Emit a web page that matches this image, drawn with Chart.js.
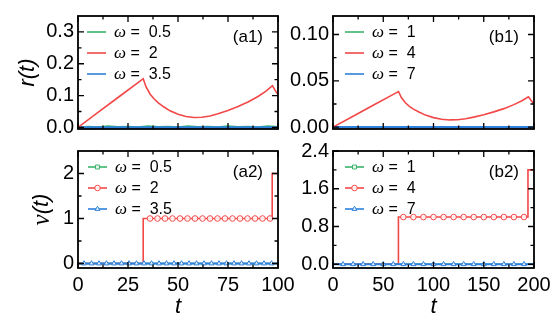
<!DOCTYPE html>
<html><head><meta charset="utf-8">
<script src="https://cdn.jsdelivr.net/npm/chart.js@4.4.0/dist/chart.umd.min.js"></script>
<style>
html,body{margin:0;padding:0;background:#fff;}
#wrap{position:relative;width:556px;height:327px;overflow:hidden;background:#fff;}
#wrap canvas{position:absolute;left:0;top:0;}
</style></head><body>
<div id="wrap">
<canvas id="a1" width="556" height="327"></canvas>
<canvas id="b1" width="556" height="327"></canvas>
<canvas id="a2" width="556" height="327"></canvas>
<canvas id="b2" width="556" height="327"></canvas>
</div>
<script>
// ---------- data ----------
const omegaA = ['0.5', '2', '3.5'];
const omegaB = ['1', '4', '7'];

const xTicksA = [0, 25, 50, 75, 100];
const xTicksB = [0, 50, 100, 150, 200];
const yTicksA1 = [0, 0.1, 0.2, 0.3];
const yTicksB1 = [0, 0.05, 0.10];
const yTicksA2 = [0, 1, 2];
const yTicksB2 = [0, 0.8, 1.6, 2.4];

// (a1) r(t)
const tA1Green = [0,5,10,15,20,25,30,35,40,45,50,55,60,65,70,75,80,85,90,95,100];
const rA1Green = [0,0.003,0.001,0.004,0.002,0.003,0.001,0.004,0.002,0.003,0.001,0.004,0.002,0.003,0.001,0.004,0.002,0.003,0.001,0.004,0.002];
const tA1Red = [0,10,20,30,32.6,34,36,38,40,43,46,50,54,58,62,66,70,75,80,85,90,94,97.2,98.5,100];
const rA1Red = [0,0.047,0.094,0.141,0.153,0.128,0.105,0.090,0.078,0.064,0.052,0.041,0.034,0.031,0.032,0.036,0.043,0.053,0.066,0.080,0.097,0.114,0.131,0.117,0.103];
const tA1Blue = [0, 100];
const rA1Blue = [0, 0];

// (b1) r(t)
const tB1Green = [0, 200];
const rB1Green = [0, 0];
const tB1Red = [0,20,40,60,65.2,68,72,76,80,86,92,100,108,116,124,132,140,150,160,170,180,188,194.4,197,200];
const rB1Red = [0,0.0118,0.0236,0.0354,0.0385,0.032,0.0263,0.0225,0.0195,0.016,0.013,0.0103,0.0085,0.0078,0.008,0.009,0.0108,0.0133,0.0165,0.020,0.0243,0.0285,0.0328,0.029,0.025];
const tB1Blue = [0, 200];
const rB1Blue = [0, 0];

// (a2) nu(t)
const tA2Line = [0, 100];
const vA2Zero = [0, 0];
const tA2RedLine = [0, 32.6, 32.6, 97.1, 97.1, 100];
const vA2RedLine = [0, 0, 1, 1, 2, 2];
const tA2BlueMarks = [3.0,6.75,10.5,14.25,18.0,21.75,25.5,29.25,33.0,36.75,40.5,44.25,48.0,51.75,55.5,59.25,63.0,66.75,70.5,74.25,78.0,81.75,85.5,89.25,93.0,96.75];
const vA2BlueMarks = [0,0,0,0,0,0,0,0,0,0,0,0,0,0,0,0,0,0,0,0,0,0,0,0,0,0];
const tA2RedMarks = [36.0,39.75,43.5,47.25,51.0,54.75,58.5,62.25,66.0,69.75,73.5,77.25,81.0,84.75,88.5,92.25,96.0];
const vA2RedMarks = [1,1,1,1,1,1,1,1,1,1,1,1,1,1,1,1,1];

// (b2) nu(t)
const tB2Line = [0, 200];
const vB2Zero = [0, 0];
const tB2RedLine = [0, 65.1, 65.1, 194, 194, 200];
const vB2RedLine = [0, 0, 1, 1, 2, 2];
const tB2BlueMarks = [10,20,30,40,50,60,70,80,90,100,110,120,130,140,150,160,170,180,190];
const vB2BlueMarks = [0,0,0,0,0,0,0,0,0,0,0,0,0,0,0,0,0,0,0];
const tB2RedMarks = [70,80,90,100,110,120,130,140,150,160,170,180,190];
const vB2RedMarks = [1,1,1,1,1,1,1,1,1,1,1,1,1];

// ---------- style ----------
const GREEN = '#3bb36b', RED = '#f24848', BLUE = '#2d80dc';
const FONT = '"Liberation Sans", Arial, sans-serif';
const MARK_R = 2.8;
const MARK_FILL = 'rgba(255,255,255,0.85)';
Chart.defaults.font.family = FONT;
Chart.defaults.color = '#000';
Chart.defaults.animation = false;

const pts = (xs, ys) => xs.map((x, i) => ({x: x, y: ys[i]}));

function lineDs(label, xs, ys, color, width) {
  return {label: label, data: pts(xs, ys), borderColor: color, borderWidth: width, pointRadius: 0,
          fill: false, tension: 0, showLine: true};
}
function markDs(label, xs, ys, color, style) {
  return {label: label, data: pts(xs, ys), borderColor: color, backgroundColor: MARK_FILL,
          showLine: false, pointStyle: style, pointRadius: MARK_R, pointBorderWidth: 1};
}

function minors(major) {
  const m = [];
  for (let i = 0; i < major.length - 1; i++) m.push((major[i] + major[i + 1]) / 2);
  return m;
}

const panelPlugin = {
  id: 'panel',
  afterDatasetsDraw(chart, args, o) {
    const {ctx, chartArea: a} = chart;
    const x = chart.scales.x, y = chart.scales.y;
    ctx.save();
    ctx.strokeStyle = '#000';
    ctx.lineWidth = 1.3;
    const xt = (vals, len) => vals.forEach(v => {
      const p = x.getPixelForValue(v);
      ctx.beginPath(); ctx.moveTo(p, a.bottom); ctx.lineTo(p, a.bottom - len);
      ctx.moveTo(p, a.top); ctx.lineTo(p, a.top + len); ctx.stroke();
    });
    const yt = (vals, len) => vals.forEach(v => {
      const p = y.getPixelForValue(v);
      ctx.beginPath(); ctx.moveTo(a.left, p); ctx.lineTo(a.left + len, p);
      ctx.moveTo(a.right, p); ctx.lineTo(a.right - len, p); ctx.stroke();
    });
    xt(o.xMajor, 6); xt(minors(o.xMajor), 3.5);
    yt(o.yMajor, 6); yt(minors(o.yMajor), 3.5);
    ctx.lineWidth = 1.8;
    ctx.strokeRect(a.left, a.top, a.right - a.left, a.bottom - a.top);

    // legend
    const lx = a.left + o.legX;
    o.legend.forEach((e, i) => {
      const yy = a.top + 16 + i * 21;
      ctx.strokeStyle = e.color; ctx.lineWidth = 1.6;
      ctx.beginPath(); ctx.moveTo(lx, yy); ctx.lineTo(lx + 19, yy); ctx.stroke();
      if (e.style) {
        ctx.fillStyle = MARK_FILL;
        ctx.lineWidth = 1;
        Chart.helpers.drawPoint(ctx, {pointStyle: e.style, radius: MARK_R, rotation: 0, borderWidth: 1}, lx + 9.5, yy);
      }
      ctx.fillStyle = '#000';
      ctx.textBaseline = 'middle';
      ctx.textAlign = 'left';
      ctx.font = 'italic 17px "Liberation Serif", serif';
      const tx = lx + 27;
      ctx.fillText('\u03C9', tx, yy + 1);
      const w = ctx.measureText('\u03C9').width;
      ctx.font = '16px ' + FONT;
      ctx.fillText(' =  ' + e.label, tx + w, yy + 1);
    });
    // panel label
    ctx.fillStyle = '#000';
    ctx.font = '17px ' + FONT;
    ctx.textAlign = 'right';
    ctx.textBaseline = 'middle';
    ctx.fillText(o.label, a.right - 15, a.top + 21);

    // y-axis title (mixed fonts)
    if (o.yTitle) {
      ctx.save();
      ctx.translate(o.yTitleX, (a.top + a.bottom) / 2);
      ctx.rotate(-Math.PI / 2);
      ctx.textBaseline = 'middle';
      ctx.textAlign = 'left';
      let total = 0;
      o.yTitle.forEach(part => { ctx.font = part.font; total += ctx.measureText(part.text).width; });
      let cx = -total / 2;
      o.yTitle.forEach(part => { ctx.font = part.font; ctx.fillText(part.text, cx, 0); cx += ctx.measureText(part.text).width; });
      ctx.restore();
    }
    ctx.restore();
  }
};

function makePanel(id, p) {
  const padding = {left: p.area.l - p.wy, top: p.area.t, right: 556 - p.area.r, bottom: 327 - p.area.b - p.hx};
  return new Chart(document.getElementById(id), {
    type: 'line',
    data: {datasets: p.datasets},
    plugins: [panelPlugin],
    options: {
      responsive: false, animation: false,
      layout: {padding: padding},
      plugins: {legend: {display: false}, tooltip: {enabled: false},
        panel: {xMajor: p.xTicks, yMajor: p.yTicks, legend: p.legend, legX: p.legX, label: p.label,
                yTitle: p.yTitle, yTitleX: p.yTitleX}},
      scales: {
        x: {type: 'linear', min: p.xMin, max: p.xMax,
          afterBuildTicks: s => { s.ticks = p.xTicks.map(v => ({value: v})); },
          afterFit: s => { s.height = p.hx; },
          grid: {display: false, drawTicks: false}, border: {display: false},
          ticks: {display: p.showX, autoSkip: false, maxRotation: 0, padding: 5, font: {size: 20}, color: '#000'},
          title: {display: p.showX, text: 't', font: {size: 22, style: 'italic'}, color: '#000', padding: {top: 0, bottom: 7}}
        },
        y: {type: 'linear', min: p.yMin, max: p.yMax,
          afterBuildTicks: s => { s.ticks = p.yTicks.map(v => ({value: v})); },
          afterFit: s => { s.width = p.wy; },
          grid: {display: false, drawTicks: false}, border: {display: false},
          ticks: {autoSkip: false, padding: 4, font: {size: 20}, color: '#000', callback: v => Number(v).toFixed(p.dec)},
          title: {display: false}
        }
      }
    }
  });
}

const SANS_IT = 'italic 22px ' + FONT;
const SERIF_IT = 'italic 25px "Liberation Serif", serif';

makePanel('a1', {
  area: {l: 78, r: 278, t: 12, b: 129}, wy: 78, hx: 0, showX: false,
  xMin: 0, xMax: 100, yMin: -0.005, yMax: 0.35, xTicks: xTicksA, yTicks: yTicksA1, dec: 1,
  yTitle: [{text: 'r(t)', font: SANS_IT}], yTitleX: 28, legX: 9, label: '(a1)',
  legend: [{color: GREEN, label: omegaA[0]}, {color: RED, label: omegaA[1]}, {color: BLUE, label: omegaA[2]}],
  datasets: [
    lineDs(omegaA[1], tA1Red, rA1Red, RED, 1.6),
    lineDs(omegaA[2], tA1Blue, rA1Blue, BLUE, 2.5),
    lineDs(omegaA[0], tA1Green, rA1Green, GREEN, 1.6)
  ]
});

makePanel('b1', {
  area: {l: 333, r: 534, t: 12, b: 129}, wy: 55, hx: 0, showX: false,
  xMin: 0, xMax: 200, yMin: -0.002, yMax: 0.12, xTicks: xTicksB, yTicks: yTicksB1, dec: 2,
  legX: 12, label: '(b1)',
  legend: [{color: GREEN, label: omegaB[0]}, {color: RED, label: omegaB[1]}, {color: BLUE, label: omegaB[2]}],
  datasets: [
    lineDs(omegaB[1], tB1Red, rB1Red, RED, 1.6),
    lineDs(omegaB[2], tB1Blue, rB1Blue, BLUE, 2.5),
    lineDs(omegaB[0], tB1Green, rB1Green, GREEN, 1.6)
  ]
});

makePanel('a2', {
  area: {l: 78, r: 278, t: 151, b: 268}, wy: 78, hx: 59, showX: true,
  xMin: 0, xMax: 100, yMin: -0.1, yMax: 2.5, xTicks: xTicksA, yTicks: yTicksA2, dec: 0,
  yTitle: [{text: '\u03BD', font: SERIF_IT}, {text: '(t)', font: SANS_IT}], yTitleX: 42, legX: 10, label: '(a2)',
  legend: [{color: GREEN, label: omegaA[0], style: 'rect'}, {color: RED, label: omegaA[1], style: 'circle'}, {color: BLUE, label: omegaA[2], style: 'triangle'}],
  datasets: [
    markDs(omegaA[2], tA2BlueMarks, vA2BlueMarks, BLUE, 'triangle'),
    lineDs(omegaA[2], tA2Line, vA2Zero, BLUE, 2),
    markDs(omegaA[1], tA2RedMarks, vA2RedMarks, RED, 'circle'),
    lineDs(omegaA[1], tA2RedLine, vA2RedLine, RED, 1.6),
    lineDs(omegaA[0], tA2Line, vA2Zero, GREEN, 1.6)
  ]
});

makePanel('b2', {
  area: {l: 333, r: 534, t: 151, b: 268}, wy: 55, hx: 59, showX: true,
  xMin: 0, xMax: 200, yMin: -0.08, yMax: 2.4, xTicks: xTicksB, yTicks: yTicksB2, dec: 1,
  legX: 12, label: '(b2)',
  legend: [{color: GREEN, label: omegaB[0], style: 'rect'}, {color: RED, label: omegaB[1], style: 'circle'}, {color: BLUE, label: omegaB[2], style: 'triangle'}],
  datasets: [
    markDs(omegaB[2], tB2BlueMarks, vB2BlueMarks, BLUE, 'triangle'),
    lineDs(omegaB[2], tB2Line, vB2Zero, BLUE, 2),
    markDs(omegaB[1], tB2RedMarks, vB2RedMarks, RED, 'circle'),
    lineDs(omegaB[1], tB2RedLine, vB2RedLine, RED, 1.6),
    lineDs(omegaB[0], tB2Line, vB2Zero, GREEN, 1.6)
  ]
});
</script>
</body></html>
